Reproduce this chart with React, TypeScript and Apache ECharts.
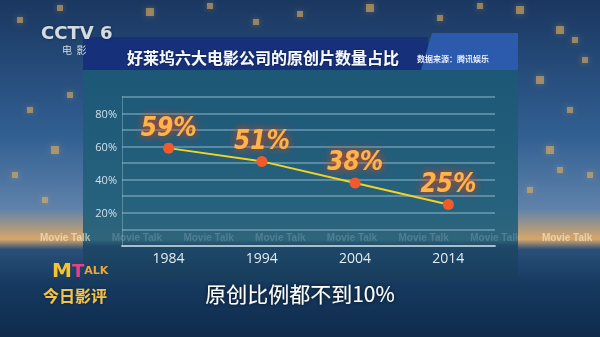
import React, { useEffect, useRef } from "react";
import * as echarts from "echarts";

const years = ["1984", "1994", "2004", "2014"];
const shares = [59, 51, 38, 25];
const yTickLabels = [20, 40, 60, 80];
const chartTitle = "好莱坞六大电影公司的原创片数量占比";
const sourceText = "数据来源：腾讯娱乐";
const subtitle = "原创比例都不到10%";

export default function App() {
  const ref = useRef<HTMLDivElement>(null);
  useEffect(() => {
    if (!ref.current) return;
    const chart = echarts.init(ref.current, undefined, { renderer: "svg" });
    const wm: any[] = [];
    for (let k = 0; k < 8; k++) {
      const x = 40 + 71.7 * k;
      const inside = x > 80 && x < 510;
      wm.push({
        type: "text",
        x,
        y: 232,
        z: 1,
        style: {
          text: "Movie Talk",
          fontSize: 10,
          fontWeight: "bold",
          fontFamily: "Arial, 'Liberation Sans', sans-serif",
          fill: inside ? "rgba(200,220,230,0.22)" : "rgba(255,240,210,0.6)",
        },
      });
    }
    const bokeh: any[] = [];
    const spots = [
      [20, 20, 3], [60, 8, 3], [150, 12, 4], [210, 6, 3], [300, 14, 3], [370, 8, 4],
      [440, 18, 3], [520, 10, 4], [560, 30, 4], [585, 60, 3], [540, 80, 4], [570, 110, 3],
      [550, 150, 4], [590, 175, 3], [530, 190, 3], [30, 110, 3], [55, 150, 4], [15, 175, 3],
      [45, 200, 3], [70, 95, 3], [256, 22, 3], [480, 6, 3], [575, 40, 3], [560, 170, 3],
    ];
    spots.forEach(([x, y, r]) =>
      bokeh.push({
        type: "rect",
        z: 0,
        shape: { x: x - r, y: y - r, width: 2 * r, height: 2 * r },
        style: { fill: "rgba(232,178,95,0.55)", shadowBlur: 6, shadowColor: "rgba(240,180,90,0.6)" },
      })
    );
    chart.setOption({
      animation: false,
      grid: { left: 122, right: 105, top: 96.7, bottom: 91 },
      xAxis: {
        type: "category",
        data: years,
        z: 4,
        boundaryGap: true,
        axisLine: { show: true, lineStyle: { color: "rgba(190,215,220,0.75)", width: 2 } },
        axisTick: { show: false },
        axisLabel: { color: "#e2ecf2", fontSize: 14, margin: 4, fontFamily: "'Open Sans', 'Noto Sans', sans-serif" },
      },
      yAxis: {
        type: "value",
        min: 0,
        max: 90,
        interval: 10,
        z: 4,
        axisLine: { show: true, lineStyle: { color: "rgba(160,200,215,0.4)" } },
        axisTick: { show: false },
        splitLine: { lineStyle: { color: "rgba(170,205,220,0.55)", width: 1.5 } },
        axisLabel: {
          color: "#cfe0ea",
          fontSize: 11,
          margin: 5,
          fontFamily: "'Open Sans', 'Noto Sans', sans-serif",
          formatter: (v: number) => (yTickLabels.includes(v) ? v + "%" : ""),
        },
      },
      series: [
        {
          type: "line",
          data: shares,
          z: 6,
          lineStyle: { color: "#f2d423", width: 2 },
          symbol: "circle",
          symbolSize: 11,
          itemStyle: { color: "#f25a2a" },
          label: {
            show: true,
            position: "top",
            distance: 3,
            formatter: (p: any) => p.value + "%",
            fontSize: 26,
            fontStyle: "italic",
            fontWeight: "bold",
            fontFamily: "'DejaVu Sans Condensed', 'Liberation Sans Narrow', 'Roboto', sans-serif",
            color: "#ffb449",
            textShadowColor: "#ff3a10",
            textShadowBlur: 9,
          },
        },
      ],
      graphic: [
        {
          type: "rect",
          z: -5,
          shape: { x: 0, y: 0, width: 600, height: 337 },
          style: {
            fill: new echarts.graphic.LinearGradient(0, 0, 0, 1, [
              { offset: 0, color: "#1a3760" },
              { offset: 0.4, color: "#315f92" },
              { offset: 0.62, color: "#5f82aa" },
              { offset: 0.71, color: "#d6a66a" },
              { offset: 0.74, color: "#2a4f78" },
              { offset: 0.84, color: "#163a60" },
              { offset: 1, color: "#0f2b4c" },
            ]),
          },
        },
        ...bokeh,
        // chart panel
        {
          type: "rect",
          z: 1,
          shape: { x: 83, y: 70, width: 435, height: 212 },
          style: {
            fill: new echarts.graphic.LinearGradient(0, 0, 0, 1, [
              { offset: 0, color: "rgba(28,88,118,0.95)" },
              { offset: 0.8, color: "rgba(38,98,124,0.95)" },
              { offset: 0.83, color: "rgba(30,72,104,0.97)" },
              { offset: 1, color: "rgba(24,60,92,0.97)" },
            ]),
          },
        },
        // title bar
        {
          type: "rect",
          z: 2,
          shape: { x: 83, y: 37, width: 345, height: 33 },
          style: { fill: "#17307a" },
        },
        {
          type: "polygon",
          z: 2,
          shape: { points: [[432, 33], [518, 33], [518, 70], [421, 70]] },
          style: { fill: "#2c5bae" },
        },
        {
          type: "text",
          z: 3,
          x: 127,
          y: 57,
          style: {
            text: chartTitle,
            fontSize: 16,
            fontWeight: "bold",
            fontFamily: "'Noto Sans CJK SC', sans-serif",
            fill: "#f4f8ff",
            textVerticalAlign: "middle",
            textShadowColor: "rgba(0,0,0,0.5)",
            textShadowBlur: 2,
          },
        },
        {
          type: "text",
          z: 3,
          x: 417,
          y: 58,
          style: {
            text: sourceText,
            fontSize: 8,
            fontWeight: "bold",
            fontFamily: "'Noto Sans CJK SC', sans-serif",
            fill: "#e6ecff",
            textVerticalAlign: "middle",
          },
        },
        // panel edge glows
        {
          type: "line",
          z: 3,
          shape: { x1: 84, y1: 75, x2: 84, y2: 140 },
          style: { stroke: "rgba(120,230,255,0.8)", lineWidth: 2, shadowBlur: 8, shadowColor: "#6ef" },
        },
        {
          type: "line",
          z: 3,
          shape: { x1: 517, y1: 220, x2: 517, y2: 262 },
          style: { stroke: "rgba(170,245,255,0.9)", lineWidth: 2, shadowBlur: 8, shadowColor: "#8ff" },
        },
        // horizon glow strips
        {
          type: "line",
          z: 1,
          shape: { x1: 0, y1: 244, x2: 83, y2: 244 },
          style: { stroke: "#ffe2a0", lineWidth: 3, shadowBlur: 8, shadowColor: "#ffb050" },
        },
        {
          type: "line",
          z: 1,
          shape: { x1: 518, y1: 244, x2: 600, y2: 244 },
          style: { stroke: "#ffe2a0", lineWidth: 3, shadowBlur: 8, shadowColor: "#ffb050" },
        },
        ...wm,
        // CCTV logo
        {
          type: "text",
          z: 10,
          x: 41,
          y: 32,
          style: {
            text: "CCTV 6",
            fontSize: 18,
            fontWeight: "bold",
            fontFamily: "'DejaVu Sans', sans-serif",
            fill: "#d5dbe3",
            textVerticalAlign: "middle",
            textShadowColor: "rgba(0,0,0,0.4)",
            textShadowBlur: 3,
          },
        },
        {
          type: "text",
          z: 10,
          x: 62,
          y: 49,
          style: {
            text: "电  影",
            fontSize: 10,
            fontFamily: "'Noto Sans CJK SC', sans-serif",
            fill: "#d5dbe3",
            textVerticalAlign: "middle",
          },
        },
        // M Talk logo
        {
          type: "text",
          z: 10,
          x: 52,
          y: 270,
          style: {
            text: "{m|M}{t|T}{a|ALK}",
            textVerticalAlign: "middle",
            rich: {
              m: { fontSize: 20, fontWeight: "bold", fontFamily: "'DejaVu Sans', sans-serif", fill: "#f7c32e" },
              t: { fontSize: 18, fontWeight: "bold", fontFamily: "'DejaVu Sans', sans-serif", fill: "#e6408a" },
              a: { fontSize: 11, fontWeight: "bold", fontFamily: "'DejaVu Sans', sans-serif", fill: "#f6a531" },
            },
          },
        },
        {
          type: "text",
          z: 10,
          x: 43,
          y: 295,
          style: {
            text: "今日影评",
            fontSize: 16,
            fontWeight: "bold",
            fontFamily: "'Noto Sans CJK SC', sans-serif",
            fill: "#f4c24a",
            textVerticalAlign: "middle",
            textShadowColor: "rgba(0,0,0,0.5)",
            textShadowBlur: 3,
          },
        },
        // subtitle
        {
          type: "text",
          z: 10,
          x: 300,
          y: 293,
          style: {
            text: subtitle,
            fontSize: 21,
            fontFamily: "'Noto Sans CJK SC', sans-serif",
            fill: "#ffffff",
            textAlign: "center",
            textVerticalAlign: "middle",
            textShadowColor: "rgba(0,0,0,0.8)",
            textShadowBlur: 4,
          },
        },
      ],
    });
    return () => chart.dispose();
  }, []);
  return <div ref={ref} style={{ width: 600, height: 337, position: "fixed", left: 0, top: 0 }} />;
}
